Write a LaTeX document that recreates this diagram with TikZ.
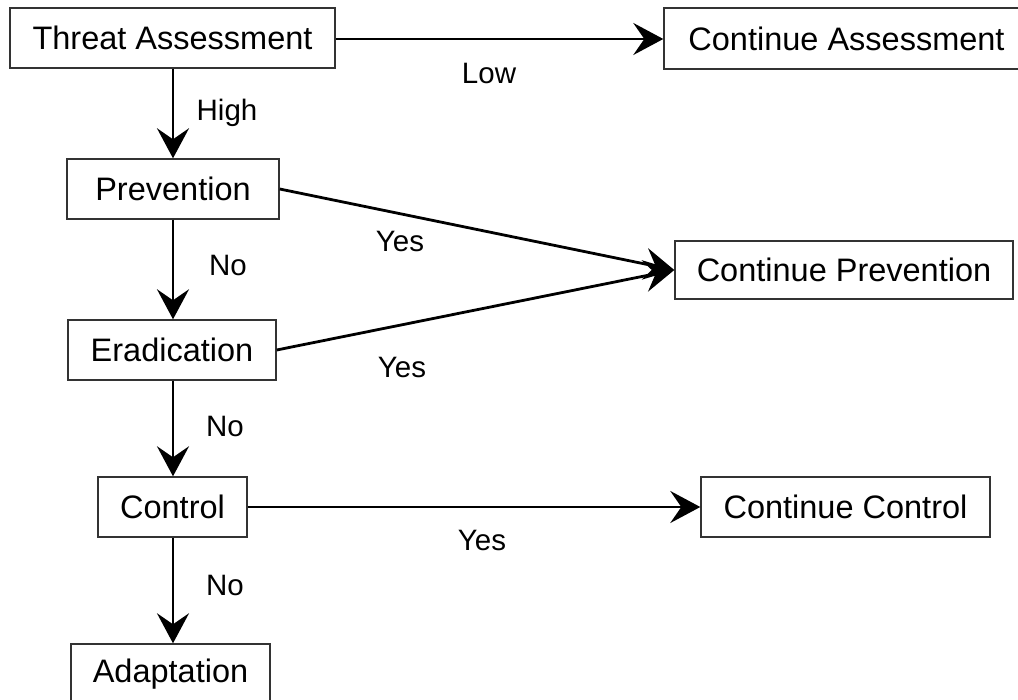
\documentclass[tikz,border=0pt]{standalone}
\usepackage{fontspec}
\setmainfont{Liberation Sans}
\usetikzlibrary{arrows.meta}
\begin{document}
\begin{tikzpicture}[x=1pt,y=-1pt,
  box/.style={draw=black!80, line width=1.4pt, fill=white, inner sep=0pt,
    font=\fontsize{32.5}{38}\selectfont},
  flow/.style={line width=2.8pt, -{Stealth[length=30pt,width=32pt,inset=11pt]}},
  lbl/.style={anchor=base, inner sep=0pt, font=\fontsize{29.5}{34}\selectfont}]
\useasboundingbox (0,0) rectangle (1018,700);
\begin{scope}
\clip (0,0) rectangle (1018,700);
\node[box, minimum width=325pt, minimum height=60pt] (ta) at (172.5,38) {Threat Assessment};
\node[box, minimum width=365pt, minimum height=61pt] (ca) at (846.5,38.5) {Continue Assessment};
\node[box, minimum width=212pt, minimum height=60pt] (prev) at (173,189) {Prevention};
\node[box, minimum width=338pt, minimum height=58pt] (cp) at (844,270) {Continue Prevention};
\node[box, minimum width=208pt, minimum height=60pt] (erad) at (172,350) {Eradication};
\node[box, minimum width=149pt, minimum height=60pt] (ctrl) at (172.5,507) {Control};
\node[box, minimum width=289pt, minimum height=60pt] (cc) at (845.5,507) {Continue Control};
\node[box, minimum width=199pt, minimum height=60pt] (adapt) at (170.5,674) {Adaptation};

\draw[flow] (ta.east |- 0,39) -- (ca.west |- 0,39);
\draw[flow] (ta.south -| prev.north) -- (prev.north);
\draw[flow] (prev.south) -- (erad.north -| prev.south);
\draw[flow] (erad.south -| prev.south) -- (ctrl.north -| prev.south);
\draw[flow] (ctrl.south -| prev.south) -- (adapt.north -| prev.south);
\draw[flow] (prev.east) -- (cp.west);
\draw[flow] (erad.east) -- (cp.west);
\draw[flow] (ctrl.east) -- (cc.west);

\node[lbl] (lhigh) at (227,121) {High};
\node[lbl] (llow) at (489,84) {Low};
\node[lbl] (lyes1) at (400,252) {Yes};
\node[lbl] (lyes2) at (402,378) {Yes};
\node[lbl] (lno1) at (228,276) {No};
\node[lbl] (lno2) at (225,437) {No};
\node[lbl] (lno3) at (225,595) {No};
\node[lbl] (lyes3) at (482,550) {Yes};
\end{scope}
\end{tikzpicture}
\end{document}
